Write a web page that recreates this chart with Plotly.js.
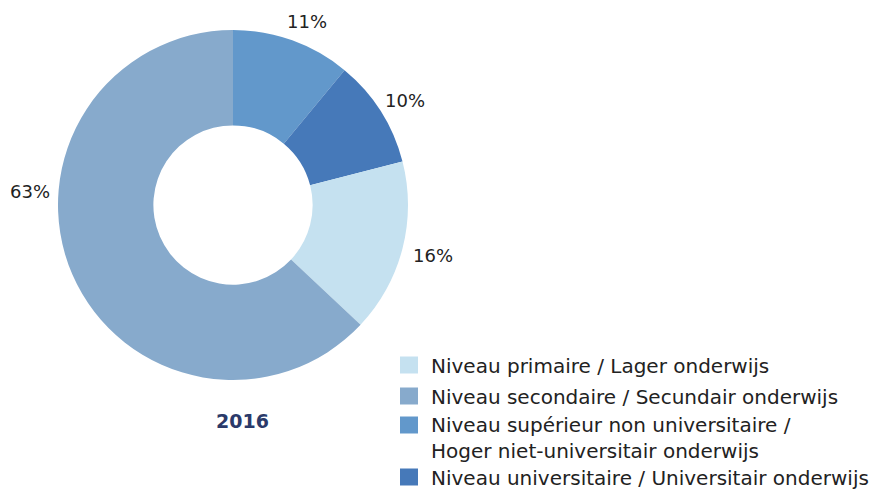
<!DOCTYPE html>
<html>
<head>
<meta charset="utf-8">
<script src="https://cdn.plot.ly/plotly-3.0.1.min.js"></script>
<style>html,body{margin:0;padding:0;background:#fff;}#chart{width:876px;height:491px;}</style>
</head>
<body>
<div id="chart"></div>
<script>
// Data (legend order)
var categories = [
  "Niveau primaire / Lager onderwijs",
  "Niveau secondaire / Secundair onderwijs",
  "Niveau supérieur non universitaire /<br>Hoger niet-universitair onderwijs",
  "Niveau universitaire / Universitair onderwijs"
];
var values = [16, 63, 11, 10];
var colors = ["#c5e1f0", "#87aacc", "#6298cb", "#4679b9"];
var pieOrder = [2, 3, 0, 1]; // clockwise from 12 o'clock
var yearLabel = "2016";

var W = 876, H = 491;
function px(x) { return x / W; }
function py(y) { return 1 - y / H; }

var FONT = "DejaVu Sans, sans-serif";

var trace = {
  type: "pie",
  labels: pieOrder.map(function (i) { return categories[i]; }),
  values: pieOrder.map(function (i) { return values[i]; }),
  marker: { colors: pieOrder.map(function (i) { return colors[i]; }), line: { width: 0 } },
  hole: 0.455,
  sort: false,
  direction: "clockwise",
  rotation: 0,
  textinfo: "none",
  hoverinfo: "label+percent",
  showlegend: false,
  domain: { x: [px(58), px(408)], y: [py(380), py(30)] }
};

// percentage label positions (pixel centers), in pie order
var labelPos = [[307, 21], [405, 100], [433, 255], [30, 191]];
var annotations = [];
var total = values.reduce(function (a, b) { return a + b; }, 0);
pieOrder.forEach(function (ci, k) {
  annotations.push({
    xref: "paper", yref: "paper",
    x: px(labelPos[k][0]), y: py(labelPos[k][1]),
    xanchor: "center", yanchor: "middle",
    text: Math.round(values[ci] / total * 100) + "%",
    showarrow: false,
    font: { family: FONT, size: 18, color: "#222222" }
  });
});

annotations.push({
  xref: "paper", yref: "paper",
  x: px(242), y: py(421), xanchor: "center", yanchor: "middle",
  text: "<b>" + yearLabel + "</b>", showarrow: false,
  font: { family: FONT, size: 19, color: "#2b3a6a" }
});

// custom legend
var shapes = [];
var swatchCenters = [365, 396, 425, 477];
var textCenters = [366, 397, 438, 478];
categories.forEach(function (c, i) {
  var yc = swatchCenters[i];
  shapes.push({
    type: "rect", xref: "paper", yref: "paper",
    x0: px(400), x1: px(418), y0: py(yc + 8.5), y1: py(yc - 8.5),
    fillcolor: colors[i], line: { width: 0 }
  });
  annotations.push({
    xref: "paper", yref: "paper",
    x: px(429), y: py(textCenters[i]),
    xanchor: "left", yanchor: "middle", align: "left",
    text: c, showarrow: false,
    font: { family: FONT, size: 20, color: "#222222" }
  });
});

var layout = {
  width: W, height: H,
  margin: { l: 0, r: 0, t: 0, b: 0 },
  paper_bgcolor: "#ffffff",
  plot_bgcolor: "#ffffff",
  showlegend: false,
  annotations: annotations,
  shapes: shapes
};

Plotly.newPlot("chart", [trace], layout, { displayModeBar: false, staticPlot: true });
</script>
</body>
</html>
